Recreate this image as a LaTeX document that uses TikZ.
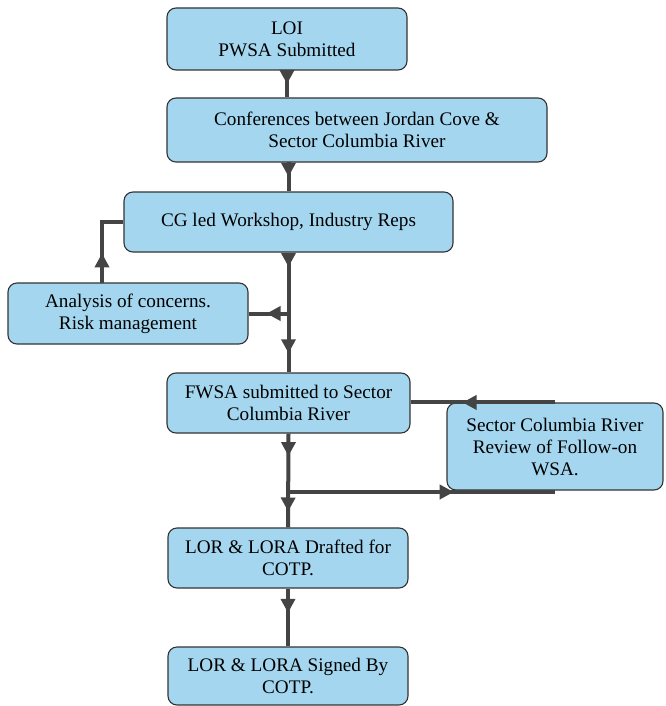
\documentclass[tikz,border=0pt]{standalone}
\usepackage{fontspec}
\setmainfont{Liberation Serif}
\newfontfamily\boxfont{Liberation Serif}
\usetikzlibrary{arrows.meta,decorations.markings}

\definecolor{boxblue}{RGB}{164,215,239}
\definecolor{linkgray}{RGB}{68,68,68}

\tikzset{
  box/.style={draw=black!80, line width=1.1pt, rounded corners=9pt, fill=boxblue,
    align=center, inner sep=2pt, font=\boxfont\fontsize{19.2}{22}\selectfont},
  link/.style={draw=linkgray, line width=4pt},
  arrowat/.style={postaction={decorate, decoration={markings,
    mark=at position #1 with {\arrow[linkgray]{Triangle[length=14pt,width=14pt]}}}}},
}

\begin{document}
\begin{tikzpicture}[x=1pt, y=-1pt]
  \useasboundingbox (0,0) rectangle (665,706);

  \node[box, minimum width=240pt, minimum height=62pt] (loi) at (287,39) {LOI\\PWSA Submitted};
  \node[box, minimum width=380pt, minimum height=64pt] (conf) at (357,130) {Conferences between Jordan Cove \&\\Sector Columbia River};
  \node[box, minimum width=329pt, minimum height=60pt] (cg) at (288.5,222) {CG led Workshop, Industry Reps};
  \node[box, minimum width=240pt, minimum height=61pt] (risk) at (128,313.5) {Analysis of concerns.\\Risk management};
  \node[box, minimum width=243pt, minimum height=60pt] (fwsa) at (288.5,403) {FWSA submitted to Sector\\Columbia River};
  \node[box, minimum width=216pt, minimum height=87pt] (review) at (555,446.5) {Sector Columbia River\\Review of Follow-on\\WSA.};
  \node[box, minimum width=240pt, minimum height=60pt] (drafted) at (288,558) {LOR \& LORA Drafted for\\COTP.};
  \node[box, minimum width=240pt, minimum height=58pt] (signed) at (288,676) {LOR \& LORA Signed By\\COTP.};

  \coordinate (c1) at (288.5,162);
  \coordinate (j1) at (288.5,313.5);
  \coordinate (j2) at (288.5,492);
  \coordinate (rt) at (102,283);

  % main line
  \path[link, arrowat=0.5] (loi.south) -- (loi.south |- conf.north);
  \path[link, arrowat=0.5] (c1) -- (cg.north);
  \path[link, arrowat=0.12, arrowat=0.84] (cg.south) -- (fwsa.north);
  \path[link, arrowat=0.24, arrowat=0.83] (fwsa.south) -- (drafted.north);
  \path[link, arrowat=0.42] (drafted.south) -- (signed.north);

  % side loops
  \path[link, arrowat=0.55] (j1) -- (risk.east);
  \path[link, arrowat=0.36] (rt) |- (cg.west);
  \path[link, arrowat=0.64] (review.north) -- (review.north -| fwsa.east);
  \path[link, arrowat=0.62] (j2) -- (j2 -| review.south);
\end{tikzpicture}
\end{document}
